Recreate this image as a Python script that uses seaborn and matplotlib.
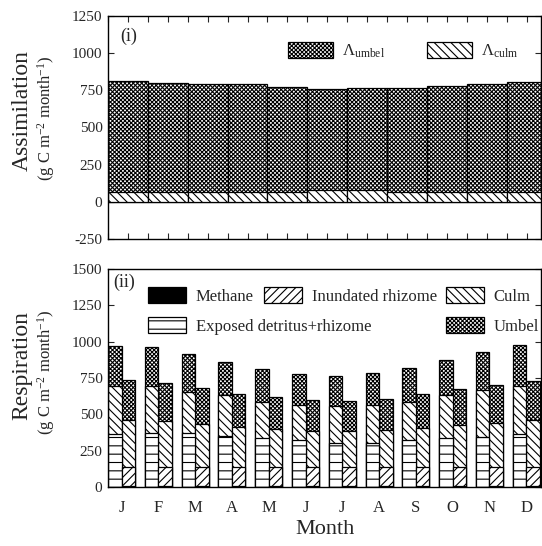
import numpy as np
import pandas as pd
import seaborn as sns
import matplotlib
matplotlib.use('Agg')
import matplotlib.pyplot as plt
from matplotlib.patches import Patch

# ---- data ----
months = ['J', 'F', 'M', 'A', 'M', 'J', 'J', 'A', 'S', 'O', 'N', 'D']

# (i) assimilation, stacked: culm at the bottom, umbel on top
assim_total = [811, 800, 789, 789, 768, 759, 764, 766, 775, 789, 806, 812]
assim_culm = [63, 63, 63, 63, 63, 78, 78, 63, 63, 63, 63, 63]

# (ii) respiration, left bar = exposed site, right bar = inundated site
exposed = [364, 371, 371, 348, 337, 325, 302, 302, 325, 337, 341, 364]
culm_exp = [328, 321, 286, 286, 251, 236, 252, 264, 263, 293, 328, 328]
umbel_exp = [281, 268, 261, 229, 225, 215, 208, 219, 234, 247, 263, 286]

methane = [4] * 12
inundated = [136] * 12
culm_inu = [318, 311, 293, 270, 261, 247, 242, 254, 265, 284, 300, 318]
umbel_inu = [277, 266, 247, 233, 215, 211, 213, 213, 234, 249, 263, 272]

H_UMBEL = 'xxxxxxxx'
H_CULM = '\\\\\\\\'
H_INU = '////'
H_EXP = '--'

sns.set_style('ticks')
plt.rcParams['font.family'] = ['Liberation Serif', 'DejaVu Serif']
plt.rcParams['mathtext.fontset'] = 'custom'
plt.rcParams['mathtext.rm'] = 'Liberation Serif'
plt.rcParams['mathtext.it'] = 'Liberation Serif:italic'
plt.rcParams['mathtext.default'] = 'regular'
plt.rcParams['axes.unicode_minus'] = False
plt.rcParams['hatch.linewidth'] = 0.8
plt.rcParams['axes.edgecolor'] = 'black'
plt.rcParams['axes.linewidth'] = 1.0

fig = plt.figure(figsize=(5.42, 5.46), dpi=100)
W, H = 542.0, 546.0
ax1 = fig.add_axes([108 / W, 1 - 239 / H, (541 - 108) / W, (239 - 15.7) / H])
ax2 = fig.add_axes([108 / W, 1 - 487 / H, (541 - 108) / W, (487 - 269) / H])

# ---- panel (i) ----
idx = np.arange(12)
for vals, h in [(assim_total, H_UMBEL), (assim_culm, H_CULM)]:
    sns.barplot(x=idx, y=vals, color='white', saturation=1, width=1.0,
                edgecolor='black', linewidth=0.9, hatch=h, errorbar=None, ax=ax1)
ax1.set_yticks(np.arange(-250, 1251, 250))
ax1.set_xticks(np.arange(-0.5, 11.6, 0.5))
ax1.set_xticklabels([])
ax1.set_xlim(-0.5, 10.36)
ax1.set_ylim(-250, 1250)
ax1.set_xlabel('')
ax1.text(0.028, 0.945, '(i)', transform=ax1.transAxes, fontsize=13, va='top')

# ---- panel (ii) ----
site = ['exposed'] * 12 + ['inundated'] * 12
df = pd.DataFrame({
    'month': np.tile(idx, 2),
    'site': site,
    'bottom1': [0] * 12 + methane,
    'bottom2': exposed + list(np.add(methane, inundated)),
})
df['culm_top'] = df['bottom2'] + np.array(culm_exp + culm_inu)
df['total'] = df['culm_top'] + np.array(umbel_exp + umbel_inu)


def layer(col, hatches, fc='white'):
    n = len(ax2.containers)
    sns.barplot(data=df, x='month', y=col, hue='site',
                hue_order=['exposed', 'inundated'], palette=[fc, fc],
                saturation=1, width=0.736, gap=0, dodge=True,
                edgecolor='black', linewidth=0.9, errorbar=None,
                legend=False, ax=ax2)
    for cont, h in zip(ax2.containers[n:], hatches):
        for p in cont:
            p.set_hatch(h)


layer('total', [H_UMBEL, H_UMBEL])
layer('culm_top', [H_CULM, H_CULM])
layer('bottom2', [H_EXP, H_INU])
layer('bottom1', ['', ''], fc='black')

ax2.set_yticks(np.arange(0, 1501, 250))
ax2.set_xticks(idx)
ax2.set_xticklabels(months)
ax2.set_xlim(-0.368, 11.40)
ax2.set_ylim(0, 1500)
ax2.set_xlabel('')
ax2.text(0.012, 0.98, '(ii)', transform=ax2.transAxes, fontsize=13, va='top')

for ax in (ax1, ax2):
    ax.tick_params(direction='in', top=True, right=True, length=4,
                   width=0.8, labelsize=11, pad=4)
    ax.set_ylabel('')

ax2.tick_params(axis='x', length=0, pad=9, labelsize=12)


# ---- legends: one entry each, anchored at the handle's top-left ----
def entry(ax, label, hatch, x, y, fc='white', hl=2.3):
    h = Patch(facecolor=fc, edgecolor='black', hatch=hatch, linewidth=0.9)
    leg = ax.legend([h], [label], loc='upper left', bbox_to_anchor=(x / W, 1 - y / H),
                    bbox_transform=fig.transFigure, frameon=False, borderpad=0,
                    borderaxespad=0, handlelength=hl, handleheight=1.1,
                    handletextpad=0.55, fontsize=12)
    ax.add_artist(leg)
    ax.legend_ = None


entry(ax1, r'$\Lambda_{umbel}$', H_UMBEL, 288, 42, hl=2.7)
entry(ax1, r'$\Lambda_{culm}$', H_CULM, 427, 42, hl=2.7)
entry(ax2, 'Methane', '', 148, 287, fc='black')
entry(ax2, 'Inundated rhizome', H_INU, 264, 287)
entry(ax2, 'Culm', H_CULM, 446, 287)
entry(ax2, 'Exposed detritus+rhizome', H_EXP, 148, 317)
entry(ax2, 'Umbel', H_UMBEL, 446, 317)

# ---- axis titles ----
fig.text(22 / W, 1 - 111 / H, 'Assimilation', rotation=90, ha='center', va='center', fontsize=17)
fig.text(46 / W, 1 - 118 / H, r'(g C m$^{-2}$ month$^{-1}$)', rotation=90,
         ha='center', va='center', fontsize=12)
fig.text(22 / W, 1 - 366 / H, 'Respiration', rotation=90, ha='center', va='center', fontsize=17)
fig.text(46 / W, 1 - 372 / H, r'(g C m$^{-2}$ month$^{-1}$)', rotation=90,
         ha='center', va='center', fontsize=12)
fig.text(325 / W, 1 - 530 / H, 'Month', ha='center', va='center', fontsize=16)

fig.savefig('out.png', dpi=100)
